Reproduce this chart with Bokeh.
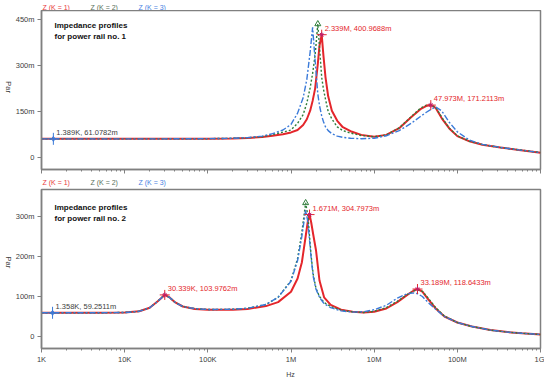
import math
from bokeh.plotting import figure
from bokeh.layouts import column, row
from bokeh.models import Range1d, FixedTicker, Label
from bokeh.core.properties import value
from bokeh.embed import file_html
from bokeh.resources import INLINE

# ---------------- data ----------------
freq_top = [1e3, 5e3, 1e4, 3e4, 1e5, 2e5, 3e5, 4.5e5, 6e5, 8e5, 1e6, 1.2e6, 1.4e6, 1.55e6, 1.7e6,
            1.82e6, 1.95e6, 2.1e6, 2.2e6, 2.339e6, 2.45e6, 2.6e6, 2.8e6, 3.1e6, 3.6e6, 4.2e6, 5.2e6,
            7e6, 1e7, 1.4e7, 2e7, 2.8e7, 3.6e7, 4.2e7, 4.8e7, 5.5e7, 6.5e7, 8e7, 1e8, 1.4e8, 2e8,
            3.3e8, 5.5e8, 1e9]
z1_top = [61.1, 61.0, 61.0, 61.1, 61.5, 62.5, 64, 67, 71, 76, 82, 90, 106, 125, 153, 185, 225, 305,
          365, 401, 335, 262, 200, 153, 120, 99, 86, 74, 68, 74, 96, 132, 158, 168, 171.2, 162, 128,
          95, 70, 53, 42, 33, 25, 16]
z2_top = [61.1, 61.0, 61.0, 61.1, 61.6, 62.8, 64.5, 68, 75, 83, 90, 112, 140, 178, 228, 275, 335,
          436, 362, 262, 225, 190, 150, 126, 100, 88, 80, 72, 68, 74, 97, 134, 161, 170, 171.5, 164,
          131, 96, 71, 53, 42, 33, 25, 16]
z3_top = [61.1, 61.0, 61.0, 61.1, 61.7, 63, 65, 70, 78, 90, 108, 145, 195, 255, 345, 425, 316, 208,
          170, 136, 118, 100, 88, 78, 70, 66, 63, 61.5, 63, 71, 88, 112, 134, 147, 157, 165, 152,
          115, 84, 57, 43, 33, 25, 16]

freq_bot = [1e3, 5e3, 1e4, 1.5e4, 2e4, 2.5e4, 3.034e4, 3.5e4, 4e4, 5e4, 7e4, 1e5, 2e5, 3e5, 5e5,
            7e5, 1e6, 1.2e6, 1.35e6, 1.5e6, 1.6e6, 1.671e6, 1.75e6, 1.85e6, 2e6, 2.2e6, 2.5e6, 3e6,
            4e6, 5.5e6, 7.5e6, 1e7, 1.4e7, 1.9e7, 2.5e7, 3e7, 3.32e7, 3.8e7, 4.5e7, 5.5e7, 7e7, 1e8,
            1.5e8, 2.5e8, 4e8, 6e8, 1e9]
z1_bot = [59.3, 59.4, 60, 63, 72, 88, 104, 97, 86, 75, 69, 67, 67, 69, 76, 86, 112, 145, 185, 250,
          290, 304.8, 285, 255, 215, 140, 98, 79, 67, 62, 60, 62, 70, 86, 104, 115, 118.6, 112, 92,
          70, 50, 35, 25, 16, 11, 8, 5]
z2_bot = [59.3, 59.4, 60, 63, 72, 88, 104.5, 97, 86, 75, 69.5, 67.5, 68, 70.5, 80, 98, 140, 195,
          260, 334, 300, 250, 200, 155, 120, 100, 85, 75, 66, 61.5, 60, 63, 72, 88, 105, 114, 116.5,
          113, 95, 72, 51, 35, 25, 16, 11, 8, 5]
z3_bot = [59.3, 59.4, 60, 63, 72, 88, 104, 97, 86, 75, 69.5, 67.5, 68, 70.5, 80, 98, 138, 190, 250,
          316, 285, 240, 195, 150, 118, 98, 82, 72, 64, 61, 62, 67, 78, 96, 107, 109, 107, 100, 84,
          68, 50, 35, 25, 16, 11, 8, 5]

series_names = ["Z (K = 1)", "Z (K = 2)", "Z (K = 3)"]

x_ticks = [1e3, 1e4, 1e5, 1e6, 1e7, 1e8, 1e9]
x_tick_labels = ["1K", "10K", "100K", "1M", "10M", "100M", "1G"]
y_ticks_top = [0, 150, 300, 450]
y_tick_labels_top = ["0", "150m", "300m", "450m"]
y_ticks_bot = [0, 100, 200, 300]
y_tick_labels_bot = ["0", "100m", "200m", "300m"]

# cursor readouts
cursor_top_f = [1.389e3]
cursor_top_v = [61.0782]
cursor_top_t = ["1.389K, 61.0782m"]
peaks_top_f = [2.339e6, 47.973e6]
peaks_top_v = [400.9688, 171.2113]
peaks_top_t = ["2.339M, 400.9688m", "47.973M, 171.2113m"]
green_peak_top = (2.1e6, 436)

cursor_bot_f = [1.358e3]
cursor_bot_v = [59.2511]
cursor_bot_t = ["1.358K, 59.2511m"]
peaks_bot_f = [30.339e3, 1.671e6, 33.189e6]
peaks_bot_v = [103.9762, 304.7973, 118.6433]
peaks_bot_t = ["30.339K, 103.9762m", "1.671M, 304.7973m", "33.189M, 118.6433m"]
green_peak_bot = (1.5e6, 334)

titles = [["Impedance profiles", "for power rail no. 1"],
          ["Impedance profiles", "for power rail no. 2"]]
y_axis_title = "Par"
x_axis_title = "Hz"

# ---------------- style ----------------
RED = "#e4262b"
GREEN = "#2f7d3a"
BLUE = "#3a7ad9"
LEG_COLORS = ["#e8383c", "#58705a", "#4a82e2"]
FONT = "Liberation Sans"
GREY = "#808080"
TXT = "#404040"

W = 544
PAR_W = 12
FRAME_L, FRAME_R = 40, 540
XMIN, XMAX = 1e3, 1e9
LEG_PX = [42, 90, 138]


def px_to_f(px):
    return 10 ** (3 + (px - FRAME_L) / (FRAME_R - FRAME_L) * 6)


def text_strip(height, xs, texts, colors, size, align):
    s = figure(width=W, height=height, x_axis_type="log",
               x_range=Range1d(XMIN, XMAX), y_range=Range1d(0, 1),
               x_axis_location=None, y_axis_location=None,
               output_backend="svg", toolbar_location=None,
               min_border_left=FRAME_L, min_border_right=W - FRAME_R,
               min_border_top=0, min_border_bottom=0)
    s.grid.visible = False
    s.outline_line_color = None
    s.text(x=xs, y=[0.5] * len(texts), text=texts,
           text_color=colors, text_font=value(FONT), text_font_size=size,
           text_baseline="middle", text_align=align)
    return s


def legend_strip(height):
    return text_strip(height, [px_to_f(px) for px in LEG_PX], series_names, LEG_COLORS,
                      "7px", "left")


def par_strip(height, center_py):
    s = figure(width=PAR_W, height=height, x_range=Range1d(0, PAR_W), y_range=Range1d(0, height),
               x_axis_location=None, y_axis_location=None,
               output_backend="svg", toolbar_location=None,
               min_border_left=0, min_border_right=0, min_border_top=0, min_border_bottom=0)
    s.grid.visible = False
    s.outline_line_color = None
    s.text(x=[8], y=[height - center_py], text=[y_axis_title], angle=-math.pi / 2,
           text_color=TXT, text_font=value(FONT), text_font_size="7.5px",
           text_baseline="middle", text_align="center")
    return s


def make_panel(height, top, bottom, yr, yt, ytl, show_xlabels):
    p = figure(width=W - PAR_W, height=height, x_axis_type="log",
               x_range=Range1d(XMIN, XMAX), y_range=Range1d(*yr),
               output_backend="svg", toolbar_location=None,
               min_border_left=FRAME_L - PAR_W, min_border_right=W - FRAME_R,
               min_border_top=top, min_border_bottom=bottom)
    p.grid.visible = False
    p.outline_line_color = GREY
    p.outline_line_width = 1.5

    minor = []
    for d in range(3, 9):
        for m in range(2, 10):
            minor.append(m * 10 ** d)
    p.xaxis.ticker = FixedTicker(ticks=x_ticks, minor_ticks=minor)
    p.xaxis.major_label_overrides = {t: l for t, l in zip(x_ticks, x_tick_labels)}
    p.xaxis.axis_line_color = GREY
    p.xaxis.axis_line_width = 1.5
    p.xaxis.major_tick_line_color = GREY
    p.xaxis.minor_tick_line_color = GREY
    p.xaxis.major_tick_in = 0
    p.xaxis.major_tick_out = 4
    p.xaxis.minor_tick_in = 0
    p.xaxis.minor_tick_out = 2
    p.xaxis.major_label_text_font = FONT
    if show_xlabels:
        p.xaxis.major_label_text_font_size = "7.5px"
        p.xaxis.major_label_text_color = TXT
        p.xaxis.major_label_standoff = 2
    else:
        p.xaxis.major_label_text_font_size = "1px"
        p.xaxis.major_label_text_color = None
        p.xaxis.major_label_standoff = 0

    p.yaxis.ticker = FixedTicker(ticks=yt, minor_ticks=[])
    p.yaxis.major_label_overrides = {t: l for t, l in zip(yt, ytl)}
    p.yaxis.axis_line_color = GREY
    p.yaxis.axis_line_width = 1.5
    p.yaxis.major_tick_line_color = GREY
    p.yaxis.major_tick_in = 0
    p.yaxis.major_tick_out = 4
    p.yaxis.minor_tick_line_color = None
    p.yaxis.major_label_text_font = FONT
    p.yaxis.major_label_text_font_size = "7.5px"
    p.yaxis.major_label_text_color = TXT
    p.yaxis.major_label_standoff = 3
    return p


def y_from_px(py, yr, frame_h):
    return yr[1] - py / frame_h * (yr[1] - yr[0])


def decorate(p, yr, frame_h, freqs, z1, z2, z3, cur_f, cur_v, cur_t, pk_f, pk_v, pk_t,
             gpk, title, title_py):
    p.line(freqs, z1, line_color=RED, line_width=2)
    p.line(freqs, z2, line_color=GREEN, line_width=1.4, line_dash="2 2")
    p.line(freqs, z3, line_color=BLUE, line_width=1.4, line_dash="6 2 2 2")

    p.scatter(pk_f, pk_v, marker="cross", size=10, line_color=RED, line_width=1)
    p.scatter(pk_f, pk_v, marker="asterisk", size=5, line_color="#c0206a", line_width=1)
    p.scatter(cur_f, cur_v, marker="cross", size=12, line_color=BLUE, line_width=1)
    p.scatter(cur_f, cur_v, marker="diamond", size=5, fill_color=None, line_color=BLUE, line_width=1)
    p.scatter([gpk[0]], [gpk[1]], marker="triangle", size=6, fill_color=None,
              line_color=GREEN, line_width=1)

    for f, v, t in zip(pk_f, pk_v, pk_t):
        p.add_layout(Label(x=f, y=v, text=t, x_offset=3, y_offset=2,
                           text_font=FONT, text_font_size="7.5px", text_color=RED,
                           text_baseline="bottom", text_align="left"))
    for f, v, t in zip(cur_f, cur_v, cur_t):
        p.add_layout(Label(x=f, y=v, text=t, x_offset=3, y_offset=2,
                           text_font=FONT, text_font_size="7.5px", text_color=TXT,
                           text_baseline="bottom", text_align="left"))

    for i, line in enumerate(title):
        p.add_layout(Label(x=px_to_f(53), y=y_from_px(title_py + 11 * i, yr, frame_h),
                           text=line, text_font=FONT, text_font_size="8px",
                           text_font_style="bold", text_color="#111111",
                           text_baseline="middle", text_align="left"))


# layout rows: legend strip (0..10) | panel 1 (10..176, frame 10..169)
#              legend strip (176..188) | panel 2 (188..367, frame 189..348) | Hz strip (367..377)
s1 = legend_strip(10)

H1 = 166
yr1 = (-39, 480)
p1 = make_panel(H1, 0, 7, yr1, y_ticks_top, y_tick_labels_top, False)
decorate(p1, yr1, 159, freq_top, z1_top, z2_top, z3_top,
         cursor_top_f, cursor_top_v, cursor_top_t, peaks_top_f, peaks_top_v, peaks_top_t,
         green_peak_top, titles[0], 15)

s2 = legend_strip(12)

H2 = 179
yr2 = (-30, 367.5)
p2 = make_panel(H2, 1, 19, yr2, y_ticks_bot, y_tick_labels_bot, True)
decorate(p2, yr2, 159, freq_bot, z1_bot, z2_bot, z3_bot,
         cursor_bot_f, cursor_bot_v, cursor_bot_t, peaks_bot_f, peaks_bot_v, peaks_bot_t,
         green_peak_bot, titles[1], 18)

s3 = text_strip(10, [px_to_f(290)], [x_axis_title], [TXT], "7px", "center")

layout = column(s1,
                row(par_strip(H1, 80), p1, spacing=0),
                s2,
                row(par_strip(H2, 82), p2, spacing=0),
                s3,
                spacing=0)
open("out.html", "w").write(file_html(layout, INLINE))
